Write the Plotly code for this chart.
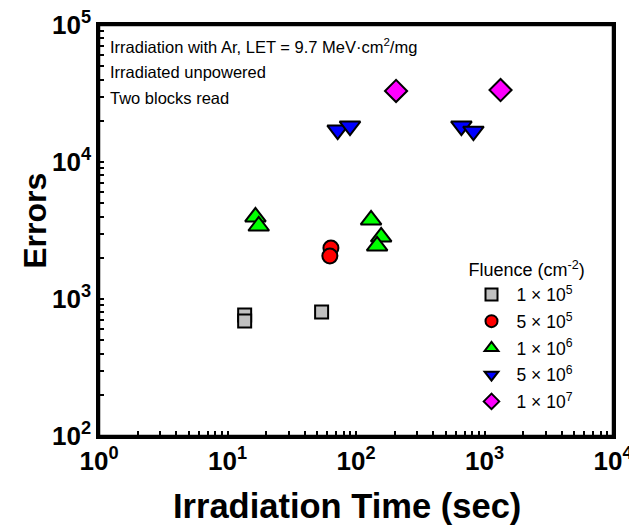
import plotly.graph_objects as go

# Data (Irradiation time in s, error counts)
series_names = ["1 × 10<sup>5</sup>", "5 × 10<sup>5</sup>", "1 × 10<sup>6</sup>",
                "5 × 10<sup>6</sup>", "1 × 10<sup>7</sup>"]
time_1e5 = [13.6, 13.6, 54]
err_1e5 = [764, 690, 803]
time_5e5 = [63.8, 62.6]
err_5e5 = [2355, 2060]
time_1e6 = [16.5, 17.5, 131, 157, 146]
err_1e6 = [3970, 3410, 3780, 2840, 2440]
time_5e6 = [72, 89.8, 661, 820]
err_5e6 = [17100, 18300, 18300, 16800]
time_1e7 = [205, 1333]
err_1e7 = [33000, 33500]

x_tickvals = [1, 10, 100, 1000, 10000]
x_ticktext = ["10<sup>0</sup>", "10<sup>1</sup>", "10<sup>2</sup>", "10<sup>3</sup>", "10<sup>4</sup>"]
y_tickvals = [100, 1000, 10000, 100000]
y_ticktext = ["10<sup>2</sup>", "10<sup>3</sup>", "10<sup>4</sup>", "10<sup>5</sup>"]

note_lines = ["Irradiation with Ar, LET = 9.7 MeV·cm<sup>2</sup>/mg",
              "Irradiated unpowered",
              "Two blocks read"]

font_family = "Arial, Liberation Sans, sans-serif"

styles = [
    dict(symbol="square", color="#c0c0c0", size=13),
    dict(symbol="circle", color="#ff0000", size=15),
    dict(symbol="triangle-up", color="#00ff00", size=18),
    dict(symbol="triangle-down", color="#0000ff", size=18),
    dict(symbol="diamond", color="#ff00ff", size=17),
]
xs = [time_1e5, time_5e5, time_1e6, time_5e6, time_1e7]
ys = [err_1e5, err_5e5, err_1e6, err_5e6, err_1e7]

fig = go.Figure()
for i, (name, x, y, st) in enumerate(zip(series_names, xs, ys, styles)):
    fig.add_trace(go.Scatter(
        x=x, y=y, mode="markers", name=name, legendgroup=f"g{i}",
        marker=dict(symbol=st["symbol"], color=st["color"], size=st["size"],
                    line=dict(color="black", width=2)),
    ))


def with_minor(major_vals, major_text):
    """Major decade ticks plus unlabeled 2..9 sub-decade ticks."""
    vals, text = [], []
    for v, t in zip(major_vals, major_text):
        vals.append(v)
        text.append("<b>" + t + "</b>")
    for v in major_vals[:-1]:
        for m in range(2, 10):
            vals.append(m * v)
            text.append("")
    return vals, text


xv, xt = with_minor(x_tickvals, x_ticktext)
yv, yt = with_minor(y_tickvals, y_ticktext)

axis_common = dict(
    type="log", showgrid=False, zeroline=False, automargin=False,
    showline=True, linecolor="black", linewidth=2.5, mirror=True,
    ticks="inside", ticklen=5, tickwidth=2, tickcolor="black",
    tickfont=dict(family=font_family, size=26, color="black"),
    tickmode="array", ticklabeloverflow="allow",
)

# The page body adds an 8px offset; margins are set so the plot area lands
# where the reference has it inside the 637x526 window.
fig.update_layout(
    width=637, height=526,
    margin=dict(l=91, r=32, t=17, b=98),
    paper_bgcolor="white", plot_bgcolor="white",
    font=dict(family=font_family, color="black"),
    xaxis=dict(axis_common, range=[0, 4], tickvals=xv, ticktext=xt),
    yaxis=dict(axis_common, range=[2, 5], tickvals=yv, ticktext=yt),
    legend=dict(
        title=dict(text="Fluence (cm<sup>-2</sup>)", font=dict(size=18)),
        font=dict(size=17.5), x=0.715, y=0.445, xanchor="left", yanchor="top",
        bgcolor="rgba(0,0,0,0)", itemsizing="constant", tracegroupgap=1, itemwidth=40,
    ),
    shapes=[
        dict(type="rect", xref="paper", yref="paper", x0=0, x1=1, y0=0, y1=1,
             line=dict(color="black", width=2.5), fillcolor="rgba(0,0,0,0)", layer="above"),
    ],
    annotations=[
        dict(text=line, xref="paper", yref="paper", x=0.018, y=y_pos,
             xanchor="left", yanchor="middle", showarrow=False, align="left",
             font=dict(size=16.5, color="black"))
        for line, y_pos in zip(note_lines, [0.95, 0.886, 0.822])
    ] + [
        dict(text="<b>Irradiation Time (sec)</b>", xref="paper", yref="paper",
             x=0.4825, y=-0.17, xanchor="center", yanchor="middle", showarrow=False,
             font=dict(size=34.5, color="black")),
        dict(text="<b>Errors</b>", xref="paper", yref="paper", textangle=-90,
             x=-0.125, y=0.523, xanchor="center", yanchor="middle", showarrow=False,
             font=dict(size=32, color="black")),
    ],
)

fig.write_html("out.html")
